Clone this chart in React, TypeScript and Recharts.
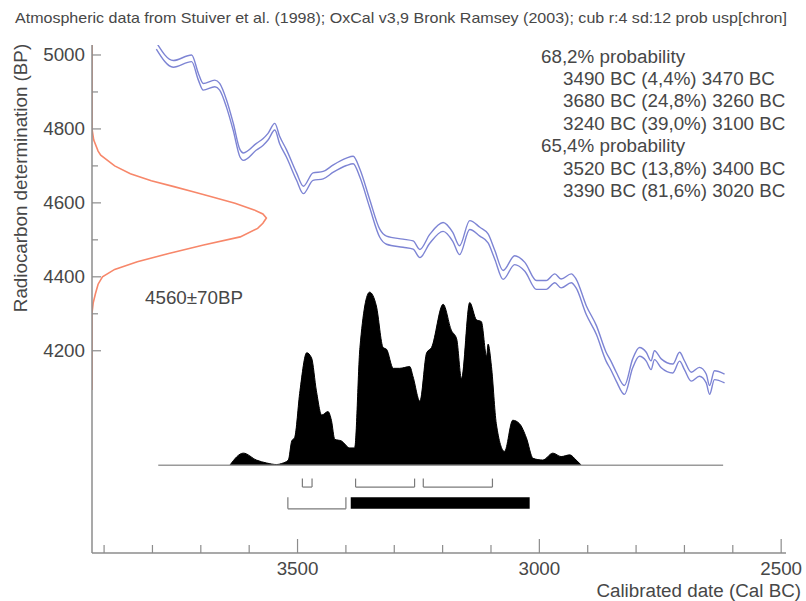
import React from 'react';
import {
  ComposedChart,
  Line,
  Area,
  XAxis,
  YAxis,
  ReferenceLine,
  ReferenceArea,
  Customized,
} from 'recharts';

// ---------- Calibration curve (IntCal98, mean and 1-sigma) ----------
const calYears = [
  3792, 3757, 3719, 3705, 3695, 3671, 3661, 3647, 3633, 3619, 3612, 3585, 3571, 3561, 3547, 3537,
  3523, 3502, 3488, 3468, 3447, 3426, 3399, 3385, 3371, 3351, 3330, 3316, 3282, 3261, 3247, 3227,
  3199, 3179, 3165, 3144, 3123, 3106, 3092, 3075, 3051, 3030, 3006, 2986, 2968, 2955, 2934, 2924,
  2903, 2882, 2862, 2852, 2841, 2824, 2807, 2793, 2779, 2769, 2762, 2748, 2724, 2710, 2700, 2686,
  2669, 2655, 2648, 2638, 2617,
];
const calBP = [
  5025, 4976, 4991, 4941, 4914, 4923, 4914, 4869, 4806, 4734, 4725, 4752, 4765, 4779, 4806, 4770,
  4734, 4671, 4635, 4671, 4675, 4693, 4711, 4716, 4680, 4599, 4518, 4499, 4491, 4486, 4463, 4502,
  4535, 4508, 4472, 4540, 4522, 4504, 4459, 4405, 4445, 4427, 4378, 4378, 4396, 4382, 4396, 4382,
  4310, 4256, 4184, 4160, 4130, 4094, 4166, 4197, 4184, 4161, 4188, 4166, 4152, 4184, 4161, 4130,
  4143, 4125, 4094, 4134, 4125,
];
const calSigma = [
  9, 9, 9, 9, 9, 9, 9, 10, 10, 10, 10, 9, 9, 9, 9, 10,
  10, 10, 10, 10, 10, 10, 10, 10, 11, 11, 11, 11, 11, 11, 11, 12,
  12, 12, 12, 12, 12, 12, 12, 12, 12, 12, 12, 12, 12, 12, 12, 12,
  12, 12, 12, 12, 12, 12, 12, 12, 12, 12, 12, 12, 12, 12, 12, 12,
  12, 12, 12, 12, 12,
];

// ---------- Radiocarbon measurement 4560±70 BP ----------
const measBP = [
  5027, 4800, 4770, 4740, 4729, 4700, 4679, 4660, 4644, 4630, 4617, 4599, 4581, 4570, 4559, 4545,
  4531, 4508, 4486, 4463, 4441, 4420, 4400, 4380, 4355, 4330, 4302, 4094,
];
const measProb = [
  0, 0, 0.01, 0.035, 0.05, 0.13, 0.22, 0.34, 0.47, 0.58, 0.68, 0.82, 0.93, 0.98, 1.0, 0.98,
  0.95, 0.85, 0.64, 0.44, 0.26, 0.13, 0.06, 0.035, 0.02, 0.007, 0, 0,
];

// ---------- Calibrated date distribution ----------
const densYears = [
  3640, 3612, 3585, 3564, 3543, 3533, 3519, 3512, 3506, 3495, 3481, 3471, 3461, 3450, 3437, 3430,
  3423, 3409, 3392, 3382, 3371, 3351, 3337, 3323, 3316, 3302, 3289, 3268, 3261, 3247, 3233, 3223,
  3199, 3182, 3171, 3161, 3144, 3130, 3120, 3109, 3106, 3099, 3089, 3072, 3055, 3041, 3027, 3013,
  2993, 2972, 2955, 2937, 2924, 2913,
];
const densProb = [
  0, 0.07, 0.03, 0.013, 0.004, 0.01, 0.03, 0.14, 0.16, 0.43, 0.65, 0.62, 0.43, 0.29, 0.31, 0.26,
  0.15, 0.14, 0.1, 0.1, 0.68, 1.0, 0.92, 0.68, 0.67, 0.56, 0.56, 0.57, 0.51, 0.37, 0.65, 0.68,
  0.93, 0.78, 0.73, 0.5, 0.94, 0.84, 0.83, 0.63, 0.7, 0.57, 0.24, 0.08, 0.26, 0.24, 0.16, 0.04,
  0.03, 0.07, 0.05, 0.06, 0.03, 0,
];
const densRange = [3788, 2620];

// ---------- Probability ranges ----------
const range68From = [3490, 3380, 3240];
const range68To = [3470, 3258, 3097];
const range95From = [3520, 3390];
const range95To = [3400, 3020];
const range95Solid = [false, true];

// ---------- Text ----------
const titleText =
  'Atmospheric data from Stuiver et al. (1998); OxCal v3,9 Bronk Ramsey (2003); cub r:4 sd:12 prob usp[chron]';
const rangeLines = [
  '68,2% probability',
  '3490 BC (4,4%) 3470 BC',
  '3680 BC (24,8%) 3260 BC',
  '3240 BC (39,0%) 3100 BC',
  '65,4% probability',
  '3520 BC (13,8%) 3400 BC',
  '3390 BC (81,6%) 3020 BC',
];
const measLabel = '4560±70BP';
const xTitle = 'Calibrated date (Cal BC)';
const yTitle = 'Radiocarbon determination (BP)';

// ---------- Ticks ----------
const xTicks = [3900, 3800, 3700, 3600, 3500, 3400, 3300, 3200, 3100, 3000, 2900, 2800, 2700, 2600, 2500];
const xLabels = [3500, 3000, 2500];
const yTicks = [5000, 4900, 4800, 4700, 4600, 4500, 4400, 4300, 4200];
const yLabels = [5000, 4800, 4600, 4400, 4200];

// ---------- Derived tables ----------
const calData = calYears.map((year, i) => ({
  year,
  hi: calBP[i] + calSigma[i],
  lo: calBP[i] - calSigma[i],
}));
const measData = measBP.map((bp, i) => ({ bp, p: measProb[i] }));
const densData = densYears.map((year, i) => ({ year, d: densProb[i] }));

// ---------- Styles ----------
const FONT = '"Liberation Sans", Arial, Helvetica, sans-serif';
const TXT = '#474747';
const AXIS = '#8c8c8c';
const BLUE = '#7d84d4';
const ORANGE = '#f7876a';
const FS = 18.8;
const W = 806;
const H = 601;

// row levels on the hidden density axis
const R1_TOP = -0.077;
const R1_BOT = -0.126;
const R2_TOP = -0.185;
const R2_BOT = -0.252;

const YTick = (props: any) => {
  const { x, y, payload } = props;
  const labeled = yLabels.includes(payload.value);
  return (
    <g>
      <line x1={x} x2={x + (labeled ? 9 : 6)} y1={y} y2={y} stroke={AXIS} strokeWidth={1.2} />
      {labeled && (
        <text
          x={x - 7}
          y={y}
          textAnchor="end"
          dominantBaseline="central"
          fontSize={FS}
          fontFamily={FONT}
          fill={TXT}
        >
          {payload.value}
        </text>
      )}
    </g>
  );
};

const XTick = (props: any) => {
  const { x, y, payload } = props;
  const labeled = xLabels.includes(payload.value);
  return (
    <g>
      <line x1={x} x2={x} y1={y} y2={y - (labeled ? 14 : 8)} stroke={AXIS} strokeWidth={1.2} />
      {labeled && (
        <text x={x} y={y + 22} textAnchor="middle" fontSize={FS} fontFamily={FONT} fill={TXT}>
          {payload.value}
        </text>
      )}
    </g>
  );
};

const Overlay = () => (
  <g fontFamily={FONT} fill={TXT}>
    <text x={15} y={23} fontSize={15} textLength={772} lengthAdjust="spacingAndGlyphs">
      {titleText}
    </text>
    {rangeLines.map((s, i) => (
      <text
        key={i}
        x={i === 0 || i === 4 ? 541 : 563}
        y={56 + i * 22.4}
        dominantBaseline="central"
        fontSize={FS}
      >
        {s}
      </text>
    ))}
    <text x={145} y={297} dominantBaseline="central" fontSize={FS}>
      {measLabel}
    </text>
    <text x={801} y={597} textAnchor="end" fontSize={FS}>
      {xTitle}
    </text>
    <text
      x={0}
      y={0}
      transform="translate(27,178) rotate(-90)"
      textAnchor="middle"
      fontSize={FS}
    >
      {yTitle}
    </text>
  </g>
);

export default function App() {
  return (
    <div style={{ position: 'absolute', left: 0, top: 0, width: W, height: H, background: '#fff' }}>
      <ComposedChart width={W} height={H} margin={{ top: 45, right: 20, bottom: 0, left: 0 }}>
        <XAxis
          xAxisId="yr"
          dataKey="year"
          type="number"
          domain={[2490, 3925]}
          reversed
          allowDataOverflow
          ticks={xTicks}
          interval={0}
          tickSize={0}
          tickMargin={0}
          height={48}
          tick={XTick}
          axisLine={{ stroke: AXIS, strokeWidth: 1.5 }}
        />
        <XAxis
          xAxisId="prob"
          dataKey="p"
          type="number"
          orientation="top"
          height={0}
          domain={[0, 3.98]}
          allowDataOverflow
          hide
        />
        <YAxis
          yAxisId="bp"
          type="number"
          domain={[3653, 5027]}
          allowDataOverflow
          ticks={yTicks}
          interval={0}
          tickSize={0}
          tickMargin={0}
          width={92}
          tick={YTick}
          axisLine={{ stroke: AXIS, strokeWidth: 1.5 }}
        />
        <YAxis
          yAxisId="dens"
          type="number"
          orientation="right"
          width={0}
          domain={[-0.507, 2.428]}
          allowDataOverflow
          hide
        />

        <ReferenceLine
          xAxisId="yr"
          yAxisId="dens"
          segment={[
            { x: densRange[0], y: 0 },
            { x: densRange[1], y: 0 },
          ]}
          stroke="#9a9a9a"
          strokeWidth={1.5}
          ifOverflow="visible"
        />
        <Area
          xAxisId="yr"
          yAxisId="dens"
          data={densData}
          dataKey="d"
          type="monotone"
          baseValue={0}
          stroke="#000"
          strokeWidth={1}
          fill="#000"
          fillOpacity={1}
          isAnimationActive={false}
          dot={false}
          activeDot={false}
        />

        {range68From.map((f, i) => (
          <React.Fragment key={'r68' + i}>
            <ReferenceLine xAxisId="yr" yAxisId="dens" segment={[{ x: f, y: R1_TOP }, { x: f, y: R1_BOT }]} stroke="#7a7a7a" strokeWidth={1.2} ifOverflow="visible" />
            <ReferenceLine xAxisId="yr" yAxisId="dens" segment={[{ x: f, y: R1_BOT }, { x: range68To[i], y: R1_BOT }]} stroke="#7a7a7a" strokeWidth={1.2} ifOverflow="visible" />
            <ReferenceLine xAxisId="yr" yAxisId="dens" segment={[{ x: range68To[i], y: R1_TOP }, { x: range68To[i], y: R1_BOT }]} stroke="#7a7a7a" strokeWidth={1.2} ifOverflow="visible" />
          </React.Fragment>
        ))}
        {range95From.map((f, i) =>
          range95Solid[i] ? (
            <ReferenceArea
              key={'r95' + i}
              xAxisId="yr"
              yAxisId="dens"
              x1={f}
              x2={range95To[i]}
              y1={R2_BOT}
              y2={R2_TOP}
              fill="#000"
              fillOpacity={1}
              stroke="none"
              ifOverflow="visible"
            />
          ) : (
            <React.Fragment key={'r95' + i}>
              <ReferenceLine xAxisId="yr" yAxisId="dens" segment={[{ x: f, y: R2_TOP }, { x: f, y: R2_BOT }]} stroke="#7a7a7a" strokeWidth={1.2} ifOverflow="visible" />
              <ReferenceLine xAxisId="yr" yAxisId="dens" segment={[{ x: f, y: R2_BOT }, { x: range95To[i], y: R2_BOT }]} stroke="#7a7a7a" strokeWidth={1.2} ifOverflow="visible" />
              <ReferenceLine xAxisId="yr" yAxisId="dens" segment={[{ x: range95To[i], y: R2_TOP }, { x: range95To[i], y: R2_BOT }]} stroke="#7a7a7a" strokeWidth={1.2} ifOverflow="visible" />
            </React.Fragment>
          )
        )}

        <Line
          xAxisId="yr"
          yAxisId="bp"
          data={calData}
          dataKey="hi"
          type="monotone"
          stroke={BLUE}
          strokeWidth={1.4}
          dot={false}
          activeDot={false}
          isAnimationActive={false}
        />
        <Line
          xAxisId="yr"
          yAxisId="bp"
          data={calData}
          dataKey="lo"
          type="monotone"
          stroke={BLUE}
          strokeWidth={1.4}
          dot={false}
          activeDot={false}
          isAnimationActive={false}
        />
        <Line
          xAxisId="prob"
          yAxisId="bp"
          data={measData}
          dataKey="bp"
          type="linear"
          stroke={ORANGE}
          strokeWidth={1.6}
          dot={false}
          activeDot={false}
          isAnimationActive={false}
        />
        <Customized component={Overlay} />
      </ComposedChart>
    </div>
  );
}
